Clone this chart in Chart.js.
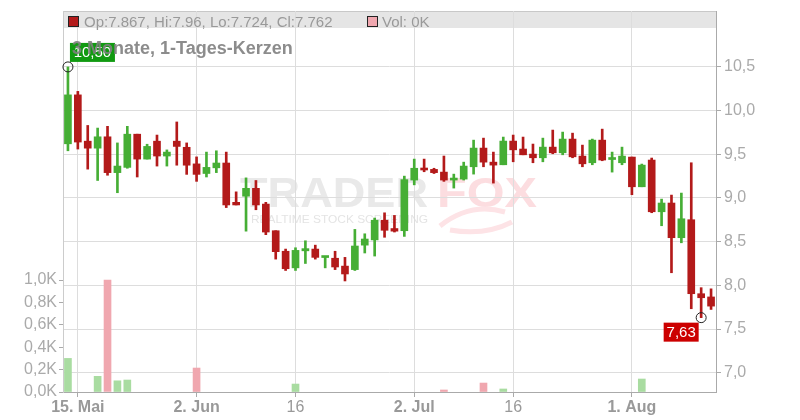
<!DOCTYPE html>
<html>
<head>
<meta charset="utf-8">
<title>3 Monate, 1-Tages-Kerzen</title>
<script src="https://cdn.jsdelivr.net/npm/chart.js@4.4.1/dist/chart.umd.min.js"></script>
<style>
  html, body { margin: 0; padding: 0; background: #fff; }
</style>
</head>
<body>
<canvas id="plotHere" width="800" height="420"></canvas>
<script>
// daily candles, index 0 = 14 May, 65 = last day
const opens  = [9.62, 10.18, 9.65, 9.57, 9.70, 9.29, 9.35, 9.73, 9.445, 9.65, 9.48, 9.65, 9.58, 9.39, 9.28, 9.345,
  9.40, 8.95, 9.02, 9.11, 8.93, 8.625, 8.39, 8.20, 8.395, 8.415, 8.318, 8.31, 8.22, 8.18, 8.46, 8.52,
  8.745, 8.65, 8.625, 9.205, 9.34, 9.327, 9.296, 9.205, 9.216, 9.357, 9.571, 9.41, 9.38, 9.651, 9.56, 9.502,
  9.46, 9.582, 9.517, 9.674, 9.479, 9.403, 9.662, 9.44, 9.403, 9.468, 9.128, 9.434, 8.842, 8.942, 8.545, 8.751,
  7.904, 7.867];
const highs  = [10.50, 10.22, 9.83, 9.80, 9.82, 9.63, 9.82, 9.73, 9.615, 9.72, 9.55, 9.87, 9.63, 9.47, 9.525, 9.54,
  9.525, 9.07, 9.23, 9.20, 8.95, 8.625, 8.415, 8.43, 8.51, 8.46, 8.325, 8.39, 8.32, 8.64, 8.59, 8.77,
  8.83, 8.80, 9.25, 9.445, 9.445, 9.34, 9.48, 9.273, 9.41, 9.662, 9.685, 9.525, 9.697, 9.72, 9.697, 9.617,
  9.685, 9.777, 9.754, 9.742, 9.605, 9.674, 9.788, 9.525, 9.582, 9.468, 9.388, 9.457, 8.987, 9.033, 9.056, 9.403,
  7.973, 7.96];
const lows   = [9.54, 9.56, 9.33, 9.20, 9.26, 9.06, 9.34, 9.24, 9.445, 9.365, 9.365, 9.375, 9.27, 9.19, 9.24, 9.29,
  8.89, 8.92, 8.62, 8.865, 8.58, 8.30, 8.17, 8.17, 8.25, 8.30, 8.20, 8.18, 8.05, 8.17, 8.37, 8.335,
  8.55, 8.61, 8.56, 9.15, 9.30, 9.28, 9.19, 9.113, 9.205, 9.273, 9.357, 9.17, 9.38, 9.414, 9.494, 9.403,
  9.414, 9.506, 9.494, 9.46, 9.357, 9.38, 9.426, 9.296, 9.38, 9.037, 9.128, 8.831, 8.682, 8.144, 8.487, 7.732,
  7.63, 7.724];
const closes = [10.18, 9.64, 9.57, 9.70, 9.29, 9.365, 9.73, 9.445, 9.59, 9.48, 9.525, 9.59, 9.375, 9.27, 9.35, 9.40,
  8.92, 8.92, 9.11, 8.92, 8.61, 8.385, 8.19, 8.40, 8.42, 8.32, 8.322, 8.21, 8.13, 8.45, 8.53, 8.745,
  8.63, 8.62, 9.21, 9.34, 9.32, 9.29, 9.205, 9.224, 9.365, 9.571, 9.41, 9.376, 9.651, 9.551, 9.494, 9.46,
  9.582, 9.517, 9.674, 9.471, 9.391, 9.662, 9.434, 9.45, 9.479, 9.128, 9.376, 8.842, 8.942, 8.545, 8.762, 7.904,
  7.858, 7.762];
// volume in thousands
const volumes = [0.30, 0, 0, 0.14, 1.0, 0.10, 0.107, 0, 0, 0, 0, 0, 0, 0.214, 0, 0,
  0, 0, 0, 0, 0, 0, 0, 0.071, 0, 0, 0, 0, 0, 0, 0, 0,
  0, 0, 0, 0, 0, 0, 0.018, 0, 0, 0, 0.08, 0, 0.027, 0, 0, 0,
  0, 0, 0, 0, 0, 0, 0, 0, 0, 0, 0.116, 0, 0, 0, 0, 0,
  0, 0];

// x axis: candle index of each labelled date
const tickIdx    = [1, 13, 23, 35, 45, 57];
const tickLabels = ['15. Mai', '2. Jun', '16', '2. Jul', '16', '1. Aug'];
const tickBold   = [true, true, false, true, false, true];
const priceTicks = [7.0, 7.5, 8.0, 8.5, 9.0, 9.5, 10.0, 10.5];
const volTicks   = [0, 0.2, 0.4, 0.6, 0.8, 1.0];

const headerText = 'Op:7.867, Hi:7.96, Lo:7.724, Cl:7.762';
const volText = 'Vol: 0K';
const titleText = '3 Monate, 1-Tages-Kerzen';

const FONT = '"Liberation Sans", Arial, sans-serif';
const GREEN = '#46ae35', RED = '#b31a1a';
const GREEN_V = '#a9dca1', RED_V = '#f0a7af';

const up = opens.map((o, i) => closes[i] >= o);

// draw text squeezed/stretched to a given width
function fitText(c, txt, x, y, w) {
  const m = c.measureText(txt).width;
  c.save();
  c.translate(x, y);
  c.scale(w / m, 1);
  c.fillText(txt, 0, 0);
  c.restore();
}

const decor = {
  id: 'decor',
  beforeDraw(chart) {
    const c = chart.ctx, a = chart.chartArea;
    c.save();
    // header band
    c.fillStyle = '#e5e5e5';
    c.fillRect(a.left, a.top, a.right - a.left, 17);
    c.strokeStyle = '#c8c8c8';
    c.lineWidth = 1;
    c.beginPath(); c.moveTo(a.left, a.top + 0.5); c.lineTo(a.right, a.top + 0.5); c.stroke();

    // watermark
    c.textBaseline = 'alphabetic';
    c.font = 'bold 42px ' + FONT;
    c.fillStyle = '#e9e9e9';
    fitText(c, 'TRADER', 240, 207, 188);
    c.fillStyle = '#fcdde0';
    fitText(c, 'FOX', 437, 207, 100);
    c.font = '10px ' + FONT;
    c.fillStyle = '#e4e4e4';
    fitText(c, 'REALTIME STOCK SCREENING', 251, 223, 177);
    // fox tail swoosh
    c.strokeStyle = '#fde3e6';
    c.lineWidth = 5;
    c.beginPath();
    c.moveTo(440, 226);
    c.quadraticCurveTo(470, 202, 505, 212);
    c.stroke();
    c.beginPath();
    c.moveTo(450, 230);
    c.quadraticCurveTo(485, 236, 512, 222);
    c.stroke();
    c.restore();
  },
  afterDraw(chart) {
    const c = chart.ctx, xs = chart.scales.x, ys = chart.scales.y;
    c.save();
    // header legend
    c.font = '15px ' + FONT;
    c.textBaseline = 'alphabetic';
    c.lineWidth = 1;
    c.strokeStyle = '#222';
    c.fillStyle = RED;
    c.fillRect(68.5, 16.5, 10, 10); c.strokeRect(68.5, 16.5, 10, 10);
    c.fillStyle = RED_V;
    c.fillRect(367.5, 16.5, 10, 10); c.strokeRect(367.5, 16.5, 10, 10);
    c.fillStyle = '#999';
    c.fillText(headerText, 84, 26.5);
    c.fillText(volText, 382, 26.5);

    // max / min markers
    let iMax = 0, iMin = 0;
    highs.forEach((v, i) => { if (v > highs[iMax]) iMax = i; });
    lows.forEach((v, i) => { if (v < lows[iMin]) iMin = i; });
    const hx = xs.getPixelForValue(iMax), hy = ys.getPixelForValue(highs[iMax]);
    const lx = xs.getPixelForValue(iMin), ly = ys.getPixelForValue(lows[iMin]);
    c.font = '15px ' + FONT;
    c.textAlign = 'center';
    c.textBaseline = 'middle';
    c.fillStyle = '#119a11';
    c.fillRect(hx + 2, hy - 24, 45, 19);
    c.fillStyle = '#fff';
    c.fillText(highs[iMax].toFixed(2).replace('.', ','), hx + 24.5, hy - 14);
    c.fillStyle = '#cc0000';
    c.fillRect(lx - 37.5, ly + 5, 35, 19);
    c.fillStyle = '#fff';
    c.fillText(lows[iMin].toFixed(2).replace('.', ','), lx - 20, ly + 15);
    c.strokeStyle = '#222';
    c.beginPath(); c.arc(hx, hy, 5, 0, Math.PI * 2); c.stroke();
    c.beginPath(); c.arc(lx, ly, 5, 0, Math.PI * 2); c.stroke();

    // title on top
    c.textAlign = 'left';
    c.textBaseline = 'alphabetic';
    c.font = 'bold 18px ' + FONT;
    c.fillStyle = 'rgba(128,128,128,0.9)';
    c.fillText(titleText, 72, 54);
    c.restore();
  }
};

const noPad = s => { s.paddingTop = 0; s.paddingBottom = 0; s.paddingLeft = 0; s.paddingRight = 0; };

window.addEventListener('load', function () {
  const bodies = opens.map((o, i) => ({ x: i, y: [o, closes[i]] }));
  const wicks  = lows.map((l, i) => ({ x: i, y: [l, highs[i]] }));
  // days without trades get no bar at all
  const vols   = volumes.map((v, i) => ({ x: i, y: v > 0 ? v : null }));

  new Chart(document.getElementById('plotHere').getContext('2d'), {
    type: 'bar',
    data: {
      datasets: [{
        label: 'body', data: bodies, yAxisID: 'y', order: 1, grouped: false,
        barThickness: 7, minBarLength: 2,
        backgroundColor: up.map(u => u ? GREEN : RED)
      }, {
        label: 'wick', data: wicks, yAxisID: 'y', order: 2, grouped: false,
        barThickness: 2,
        backgroundColor: up.map(u => u ? GREEN : RED)
      }, {
        label: 'vol', data: vols, yAxisID: 'yVol', order: 3, grouped: false,
        barThickness: 7,
        backgroundColor: up.map(u => u ? GREEN_V : RED_V)
      }]
    },
    options: {
      responsive: false,
      animation: false,
      layout: { padding: { top: 11, left: 0, right: 0, bottom: 0 } },
      plugins: { legend: { display: false }, tooltip: { enabled: false } },
      scales: {
        x: {
          type: 'linear', min: -0.5, max: 65.5, offset: false,
          afterBuildTicks: s => { s.ticks = tickIdx.map(v => ({ value: v })); },
          afterFit: s => { s.height = 28; noPad(s); },
          grid: { color: '#dddddd', tickColor: '#aaaaaa', tickLength: 5, offset: false },
          border: { color: '#aaaaaa' },
          ticks: {
            autoSkip: false, maxRotation: 0, padding: 1, color: '#999999',
            font: ctx => ({ family: FONT, size: 16, weight: tickBold[ctx.index] ? 'bold' : 'normal' }),
            callback: (v, i) => tickLabels[i]
          }
        },
        y: {
          type: 'linear', position: 'right', min: 6.779, max: 11.14,
          afterBuildTicks: s => { s.ticks = priceTicks.map(v => ({ value: v })); },
          afterFit: s => { s.width = 84; noPad(s); },
          grid: { color: '#dddddd', tickColor: '#aaaaaa', tickLength: 5 },
          border: { color: '#aaaaaa' },
          ticks: {
            padding: 3, color: '#aaaaaa', font: { family: FONT, size: 16 },
            callback: v => v.toFixed(1).replace('.', ',')
          }
        },
        yVol: {
          type: 'linear', position: 'left', min: 0, max: 3.402,
          afterBuildTicks: s => { s.ticks = volTicks.map(v => ({ value: v })); },
          afterFit: s => { s.width = 63; noPad(s); },
          grid: { drawOnChartArea: false, tickColor: '#aaaaaa', tickLength: 4 },
          border: { color: '#cccccc' },
          ticks: {
            padding: 2, color: '#aaaaaa', font: { family: FONT, size: 16 },
            callback: v => v.toFixed(1).replace('.', ',') + 'K'
          }
        }
      }
    },
    plugins: [decor]
  });
});
</script>
</body>
</html>
